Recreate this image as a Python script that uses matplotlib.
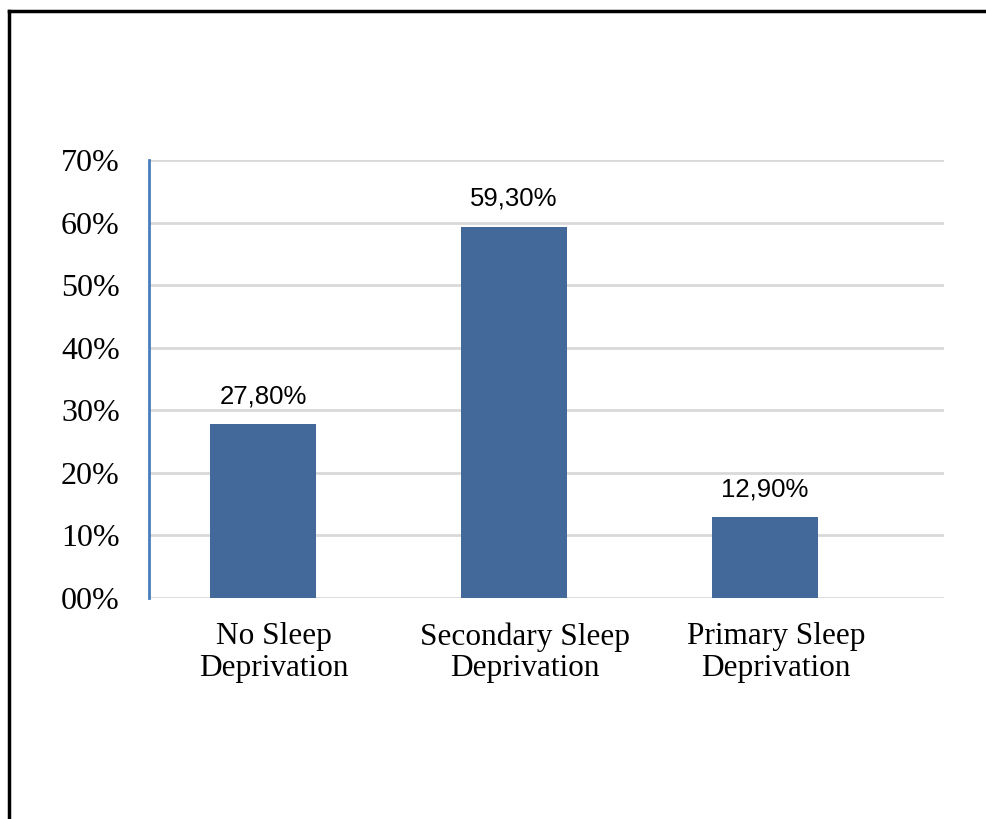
import matplotlib.pyplot as plt
import matplotlib.transforms as mtransforms
from matplotlib.lines import Line2D

# data
categories = ['No Sleep\nDeprivation', 'Secondary Sleep\nDeprivation', 'Primary Sleep\nDeprivation']
values = [27.8, 59.3, 12.9]
value_labels = ['27,80%', '59,30%', '12,90%']
yticks = [0, 10, 20, 30, 40, 50, 60, 70]
ytick_labels = ['00%', '10%', '20%', '30%', '40%', '50%', '60%', '70%']

fig = plt.figure(figsize=(9.86, 8.19), dpi=100)
ax = fig.add_axes([0.1511, 0.2698, 0.8063, 0.5348])

x = range(len(categories))
bars = ax.bar(x, values, width=0.42, color='#43699A', zorder=3)

ax.set_xlim(-0.454, 2.713)
ax.set_ylim(0, 70)
ax.set_yticks(yticks)
ax.set_yticklabels(ytick_labels, fontsize=23, family='Liberation Serif')
ax.set_xticks(list(x))
ax.set_xticklabels(categories, fontsize=22.5, family='Liberation Serif', linespacing=1.12)
ax.tick_params(length=0)
ax.tick_params(axis='y', pad=21)
ax.tick_params(axis='x', pad=17.5)

# category labels sit a little right of the bars in the original
shift = mtransforms.ScaledTranslation(11 / 100, 0, fig.dpi_scale_trans)
for lab in ax.get_xticklabels():
    lab.set_transform(lab.get_transform() + shift)

ax.grid(axis='y', color='#D9D9D9', linewidth=2, zorder=0)
for s in ['top', 'right', 'bottom']:
    ax.spines[s].set_visible(False)
ax.spines['left'].set_color('#4A7EBB')
ax.spines['left'].set_linewidth(2)

for b, lab in zip(bars, value_labels):
    ax.annotate(lab, (b.get_x() + b.get_width() / 2, b.get_height()),
                xytext=(0, 16), textcoords='offset pixels',
                ha='center', va='bottom', fontsize=18.5, family='Liberation Sans')

# frame lines round the figure
fig.add_artist(Line2D([0.0095, 0.0095], [0, 0.987], transform=fig.transFigure, color='black', linewidth=2.5))
fig.add_artist(Line2D([0.0095, 1.0], [0.987, 0.987], transform=fig.transFigure, color='black', linewidth=2.5))

fig.savefig('out.png', dpi=100)
